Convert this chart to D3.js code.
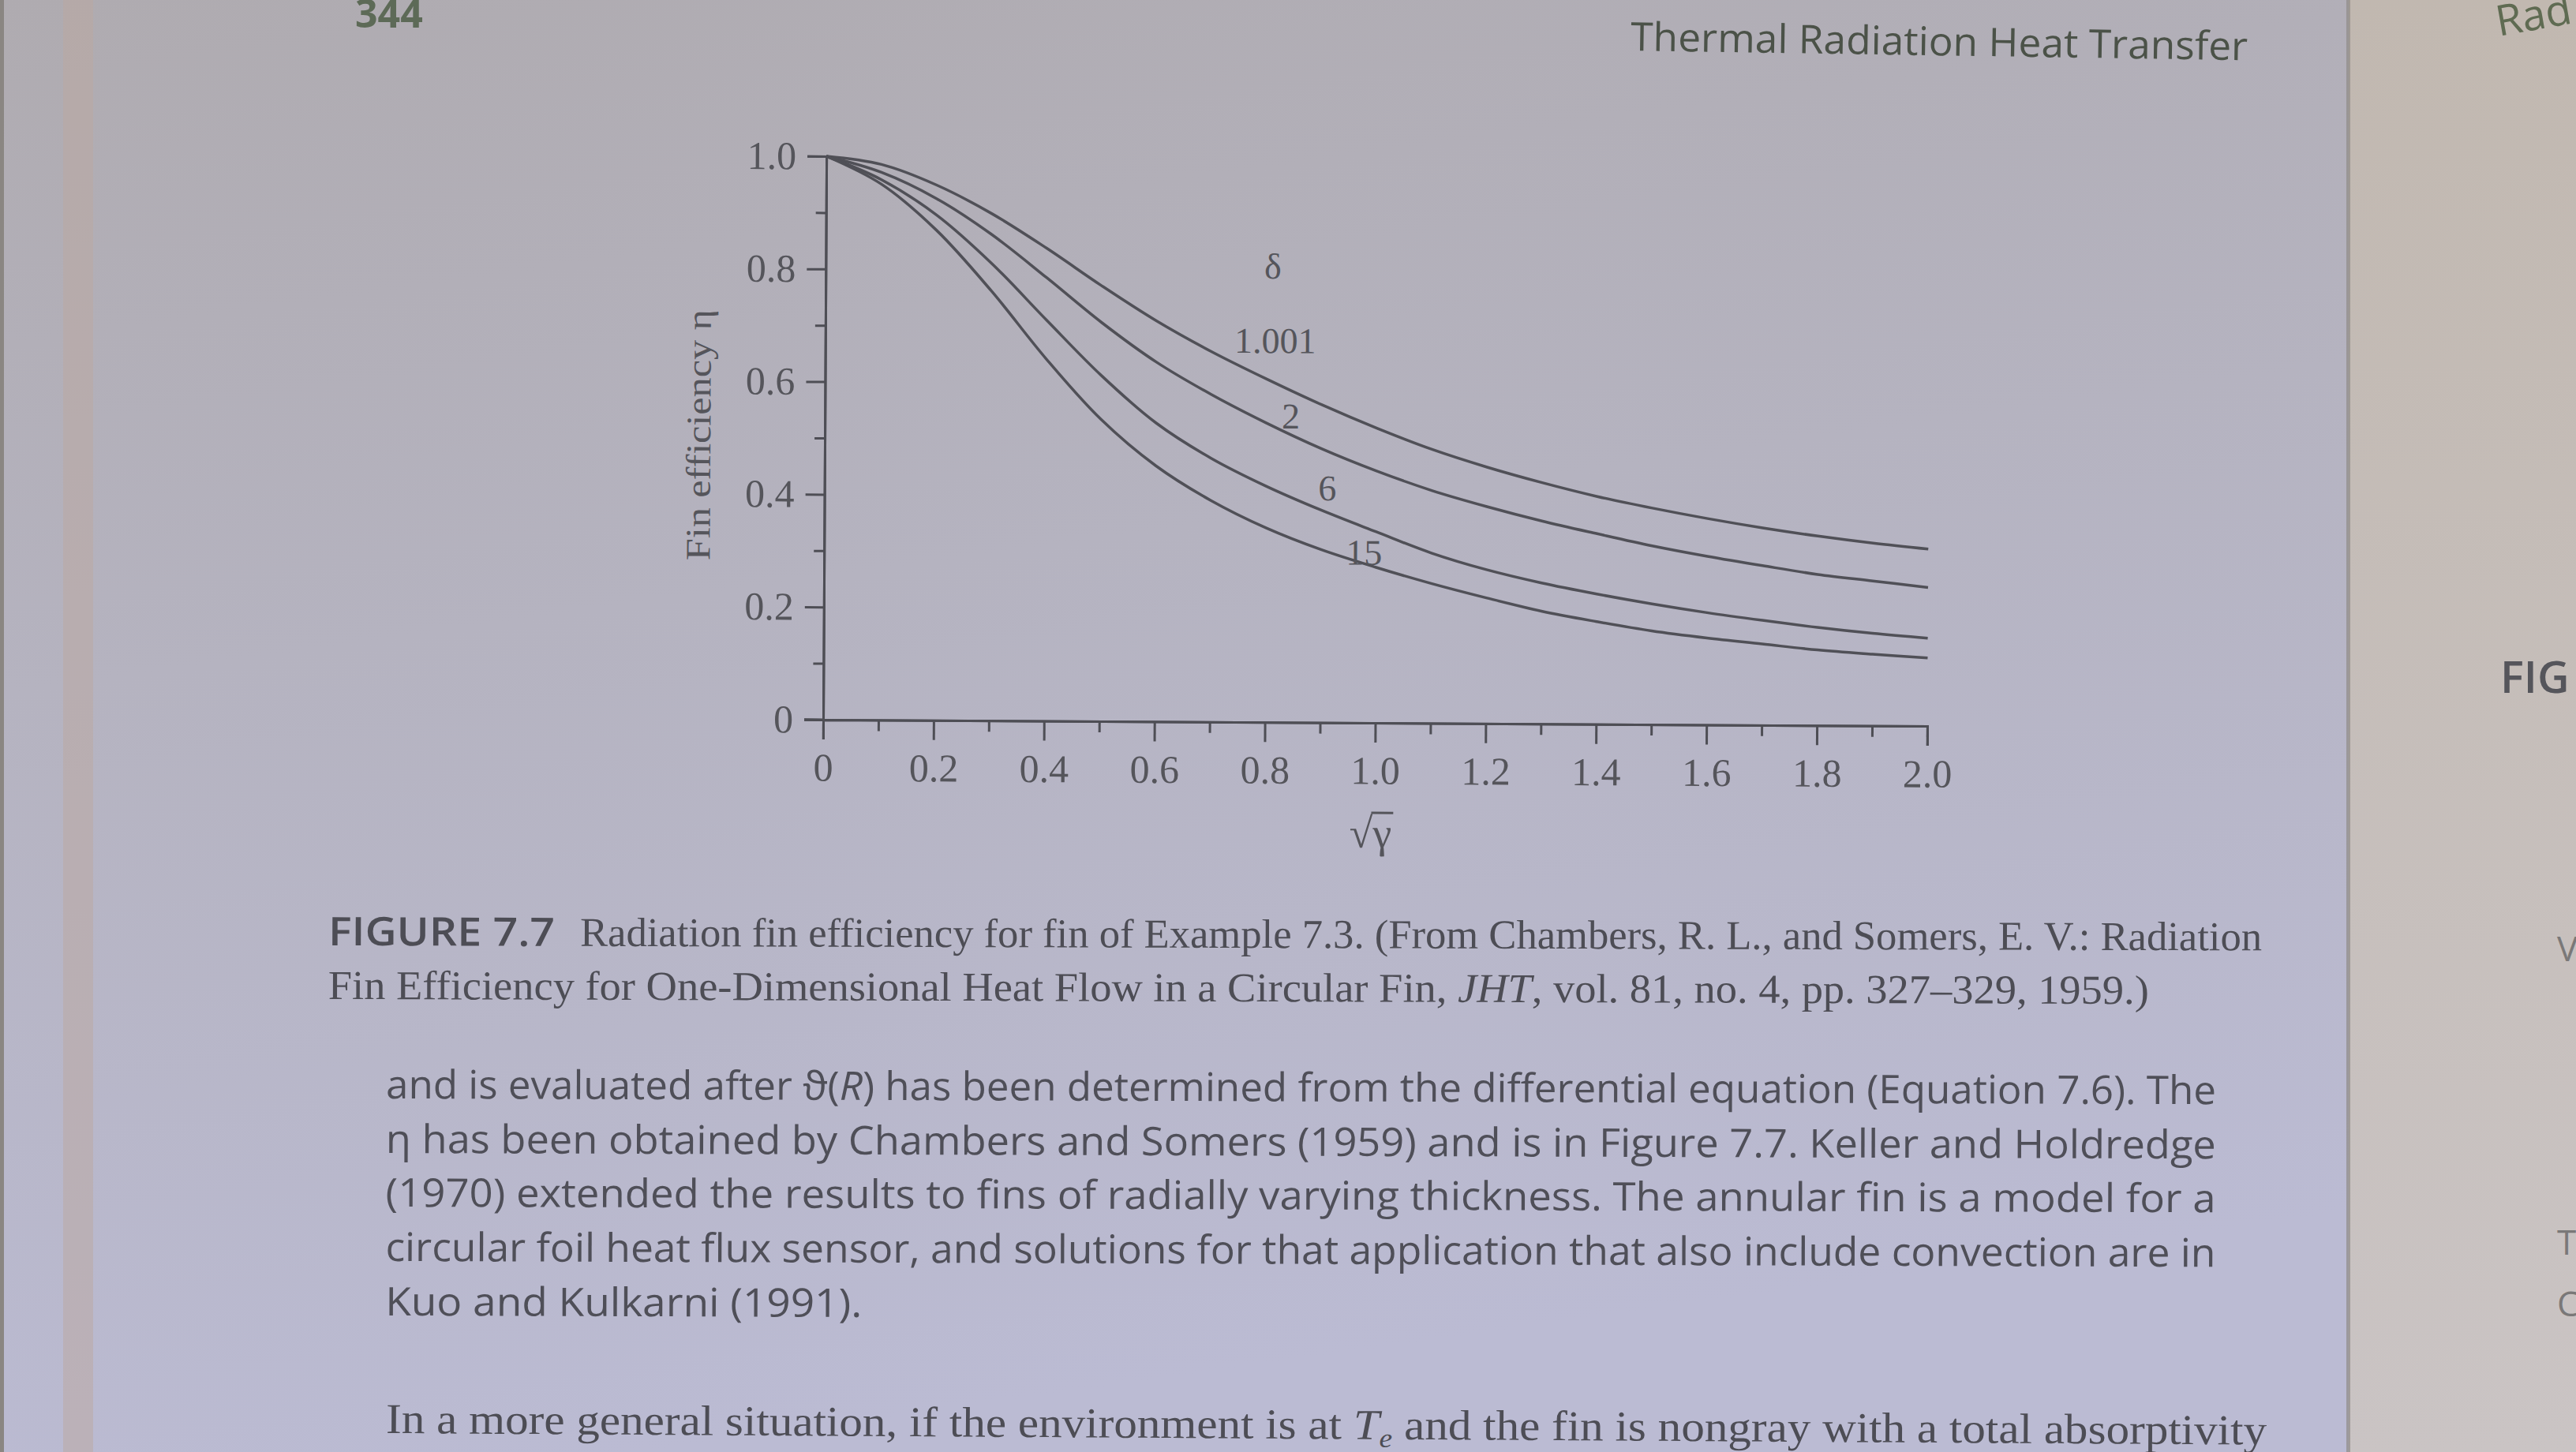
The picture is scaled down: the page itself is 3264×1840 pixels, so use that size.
<!DOCTYPE html>
<html>
<head>
<meta charset="utf-8">
<script src="https://cdn.jsdelivr.net/npm/d3@7"></script>
<style>
  html, body { margin: 0; padding: 0; background: #b4b2bd; }
  svg { display: block; }
</style>
</head>
<body>
<div id="page"></div>
<script>
// sqrt(gamma) values along the x axis
var xs = [0, 0.1, 0.2, 0.3, 0.4, 0.5, 0.6, 0.7, 0.8, 0.9, 1.0,
          1.1, 1.2, 1.3, 1.4, 1.5, 1.6, 1.7, 1.8, 1.9, 2.0];

// fin efficiency eta, one list per delta
var eta1001 = [1.0, 0.986, 0.950, 0.900, 0.839, 0.773, 0.711, 0.657, 0.609, 0.564, 0.523,
               0.486, 0.455, 0.428, 0.404, 0.384, 0.366, 0.350, 0.336, 0.324, 0.314];
var eta2    = [1.0, 0.972, 0.926, 0.863, 0.787, 0.708, 0.638, 0.581, 0.531, 0.486, 0.447,
               0.413, 0.385, 0.360, 0.338, 0.317, 0.299, 0.283, 0.268, 0.257, 0.246];
var eta6    = [1.0, 0.959, 0.897, 0.812, 0.712, 0.614, 0.530, 0.468, 0.419, 0.377, 0.339,
               0.302, 0.273, 0.250, 0.231, 0.214, 0.199, 0.186, 0.174, 0.164, 0.156];
var eta15   = [1.0, 0.951, 0.870, 0.763, 0.643, 0.536, 0.454, 0.393, 0.345, 0.307, 0.276,
               0.248, 0.223, 0.200, 0.182, 0.166, 0.154, 0.144, 0.134, 0.127, 0.121];

var deltas = ["1.001", "2", "6", "15"];
var series = [eta1001, eta2, eta6, eta15];

var xMajor = [0, 0.2, 0.4, 0.6, 0.8, 1.0, 1.2, 1.4, 1.6, 1.8, 2.0];
var xMinor = [0.1, 0.3, 0.5, 0.7, 0.9, 1.1, 1.3, 1.5, 1.7, 1.9];
var yMajor = [0, 0.2, 0.4, 0.6, 0.8, 1.0];
var yMinor = [0.1, 0.3, 0.5, 0.7, 0.9];

// where the curve labels sit, in data units
var labelAt = [
    {text: "δ",       x: 0.810, y: 0.810},
    {text: deltas[0], x: 0.815, y: 0.678},
    {text: deltas[1], x: 0.844, y: 0.544},
    {text: deltas[2], x: 0.911, y: 0.417},
    {text: deltas[3], x: 0.978, y: 0.303}
];

var W = 3264, H = 1840;
var ink = "#4e4e55";
var serif = "'Liberation Serif', 'DejaVu Serif', serif";
var sans = "'Open Sans', 'Noto Sans', sans-serif";

var svg = d3.select("#page").append("svg").attr("width", W).attr("height", H);

// ---- paper ----
var defs = svg.append("defs");
var pg = defs.append("linearGradient").attr("id", "paper")
    .attr("x1", 0).attr("y1", 0).attr("x2", 0.25).attr("y2", 1);
pg.append("stop").attr("offset", "0%").attr("stop-color", "#afabb0");
pg.append("stop").attr("offset", "45%").attr("stop-color", "#b5b3c0");
pg.append("stop").attr("offset", "100%").attr("stop-color", "#bbbbd3");
var rg = defs.append("linearGradient").attr("id", "rightpage")
    .attr("x1", 0).attr("y1", 0).attr("x2", 0).attr("y2", 1);
rg.append("stop").attr("offset", "0%").attr("stop-color", "#c1b8b0");
rg.append("stop").attr("offset", "100%").attr("stop-color", "#cac4c4");

svg.append("rect").attr("width", W).attr("height", H).attr("fill", "url(#paper)");
svg.append("rect").attr("x", 0).attr("width", 5).attr("height", H).attr("fill", "#8a8682");
svg.append("rect").attr("x", 80).attr("width", 38).attr("height", H).attr("fill", "#bba89f").attr("opacity", 0.5);
svg.append("rect").attr("x", 2976).attr("width", W - 2976).attr("height", H).attr("fill", "url(#rightpage)");
svg.append("rect").attr("x", 2973).attr("width", 5).attr("height", H).attr("fill", "#8f8a86").attr("opacity", 0.7);

// ---- running head ----
svg.append("text").attr("x", 450).attr("y", 35)
    .attr("font-family", sans).attr("font-weight", 700).attr("font-size", 50)
    .attr("fill", "#5d6a57").text("344");
svg.append("text").attr("x", 2066).attr("y", 64)
    .attr("transform", "rotate(0.9 2066 64)")
    .attr("font-family", sans).attr("font-size", 50).attr("fill", "#4b5248")
    .attr("textLength", 782).attr("lengthAdjust", "spacingAndGlyphs")
    .text("Thermal Radiation Heat Transfer");

// ---- chart ----
var x = d3.scaleLinear().domain([0, 2]).range([1043, 2442]);
var y = d3.scaleLinear().domain([0, 1]).range([912, 198]);

var g = svg.append("g").attr("transform", "rotate(0.33 1043 912)");

function styleAxis(sel) {
    sel.select(".domain").attr("stroke", ink).attr("stroke-width", 3);
    sel.selectAll(".tick line").attr("stroke", ink).attr("stroke-width", 3);
    sel.selectAll(".tick text").attr("fill", "#55555b")
        .attr("font-family", serif).attr("font-size", 50);
}
var fmt = function(d) { return d === 0 ? "0" : d.toFixed(1); };

g.append("g").attr("transform", "translate(0," + y(0) + ")")
    .call(d3.axisBottom(x).tickValues(xMinor).tickSize(14).tickFormat(""))
    .call(styleAxis);
g.append("g").attr("transform", "translate(0," + y(0) + ")")
    .call(d3.axisBottom(x).tickValues(xMajor).tickSize(25).tickPadding(17).tickFormat(fmt))
    .call(styleAxis);
g.append("line").attr("x1", x(0) - 24).attr("x2", x(0)).attr("y1", y(0)).attr("y2", y(0))
    .attr("stroke", ink).attr("stroke-width", 3);

g.append("g").attr("transform", "translate(" + x(0) + ",0)")
    .call(d3.axisLeft(y).tickValues(yMinor).tickSize(13).tickFormat(""))
    .call(styleAxis);
g.append("g").attr("transform", "translate(" + x(0) + ",0)")
    .call(d3.axisLeft(y).tickValues(yMajor).tickSize(24).tickPadding(14).tickFormat(fmt))
    .call(styleAxis);

var line = d3.line()
    .x(function(d, i) { return x(xs[i]); })
    .y(function(d) { return y(d); })
    .curve(d3.curveCatmullRom.alpha(0.5));

g.selectAll("path.curve")
    .data(series)
    .enter()
    .append("path")
    .attr("class", "curve")
    .attr("d", line)
    .attr("fill", "none")
    .attr("stroke", "#505057")
    .attr("stroke-width", 3.5);

g.selectAll("text.lbl")
    .data(labelAt)
    .enter()
    .append("text")
    .attr("class", "lbl")
    .attr("x", function(d) { return x(d.x); })
    .attr("y", function(d) { return y(d.y); })
    .attr("dy", "0.35em")
    .attr("text-anchor", "middle")
    .attr("font-family", serif)
    .attr("font-size", 46)
    .attr("fill", "#55555b")
    .text(function(d) { return d.text; });

// x title: sqrt(gamma) with vinculum
var tx = x(1.0) - 32, ty = 1070;
var xt = g.append("text").attr("x", tx).attr("y", ty)
    .attr("font-family", serif).attr("font-size", 54).attr("fill", "#55555b");
xt.append("tspan").text("√");
xt.append("tspan").text("γ");
var xtLen = xt.node().getComputedTextLength();
var rootLen = xt.select("tspan").node().getComputedTextLength();
g.append("line")
    .attr("x1", tx + rootLen - 2).attr("x2", tx + xtLen + 2)
    .attr("y1", ty - 44).attr("y2", ty - 44)
    .attr("stroke", "#55555b").attr("stroke-width", 3);

g.append("text")
    .attr("transform", "translate(898,552) rotate(-90)")
    .attr("text-anchor", "middle")
    .attr("font-family", serif).attr("font-size", 44).attr("fill", "#55555b")
    .attr("textLength", 318).attr("lengthAdjust", "spacingAndGlyphs")
    .text("Fin efficiency η");

// ---- caption ----
var cap = svg.append("g").attr("transform", "rotate(0.15 416 1200)").attr("fill", "#4d4d55");
cap.append("text").attr("x", 416).attr("y", 1198)
    .attr("font-family", sans).attr("font-weight", 600).attr("font-size", 50)
    .attr("textLength", 287).attr("lengthAdjust", "spacingAndGlyphs")
    .text("FIGURE 7.7");
cap.append("text").attr("x", 735).attr("y", 1198)
    .attr("font-family", serif).attr("font-size", 52)
    .attr("textLength", 2131).attr("lengthAdjust", "spacingAndGlyphs")
    .text("Radiation fin efficiency for fin of Example 7.3. (From Chambers, R. L., and Somers, E. V.: Radiation");
var c2 = cap.append("text").attr("x", 416).attr("y", 1266)
    .attr("font-family", serif).attr("font-size", 52)
    .attr("textLength", 2307).attr("lengthAdjust", "spacingAndGlyphs");
c2.append("tspan").text("Fin Efficiency for One-Dimensional Heat Flow in a Circular Fin, ");
c2.append("tspan").attr("font-style", "italic").text("JHT");
c2.append("tspan").text(", vol. 81, no. 4, pp. 327–329, 1959.)");

// ---- body text ----
var body = svg.append("g").attr("transform", "rotate(0.18 489 1400)").attr("fill", "#4f4f58")
    .attr("font-family", sans).attr("font-size", 50);
var b1 = body.append("text").attr("x", 489).attr("y", 1392)
    .attr("textLength", 2319).attr("lengthAdjust", "spacingAndGlyphs");
b1.append("tspan").text("and is evaluated after ϑ(");
b1.append("tspan").attr("font-style", "italic").text("R");
b1.append("tspan").text(") has been determined from the differential equation (Equation 7.6). The");
body.append("text").attr("x", 489).attr("y", 1461)
    .attr("textLength", 2319).attr("lengthAdjust", "spacingAndGlyphs")
    .text("η has been obtained by Chambers and Somers (1959) and is in Figure 7.7. Keller and Holdredge");
body.append("text").attr("x", 489).attr("y", 1529)
    .attr("textLength", 2319).attr("lengthAdjust", "spacingAndGlyphs")
    .text("(1970) extended the results to fins of radially varying thickness. The annular fin is a model for a");
body.append("text").attr("x", 489).attr("y", 1598)
    .attr("textLength", 2319).attr("lengthAdjust", "spacingAndGlyphs")
    .text("circular foil heat flux sensor, and solutions for that application that also include convection are in");
body.append("text").attr("x", 489).attr("y", 1667)
    .attr("textLength", 604).attr("lengthAdjust", "spacingAndGlyphs")
    .text("Kuo and Kulkarni (1991).");

var b6 = svg.append("text").attr("x", 489).attr("y", 1816)
    .attr("transform", "rotate(0.35 489 1816)")
    .attr("font-family", serif).attr("font-size", 54).attr("fill", "#4d4d55")
    .attr("textLength", 2383).attr("lengthAdjust", "spacingAndGlyphs");
b6.append("tspan").text("In a more general situation, if the environment is at ");
b6.append("tspan").attr("font-style", "italic").text("T");
b6.append("tspan").attr("font-style", "italic").attr("font-size", 34).attr("dy", 10).text("e");
b6.append("tspan").attr("dy", -10).text(" and the fin is nongray with a total absorptivity");

// ---- facing page edge ----
svg.append("text").attr("x", 3168).attr("y", 878)
    .attr("font-family", sans).attr("font-weight", 600).attr("font-size", 56)
    .attr("fill", "#55555b").text("FIG");
svg.append("text").attr("x", 3166).attr("y", 46)
    .attr("transform", "rotate(-10 3166 46)")
    .attr("font-family", sans).attr("font-size", 54)
    .attr("fill", "#5f6b52").text("Rad");
var edge = [["V", 1218], ["T", 1590], ["C", 1668]];
edge.forEach(function(e) {
    svg.append("text").attr("x", 3240).attr("y", e[1])
        .attr("font-family", sans).attr("font-size", 44)
        .attr("fill", "#7a7878").text(e[0]);
});
</script>
</body>
</html>
